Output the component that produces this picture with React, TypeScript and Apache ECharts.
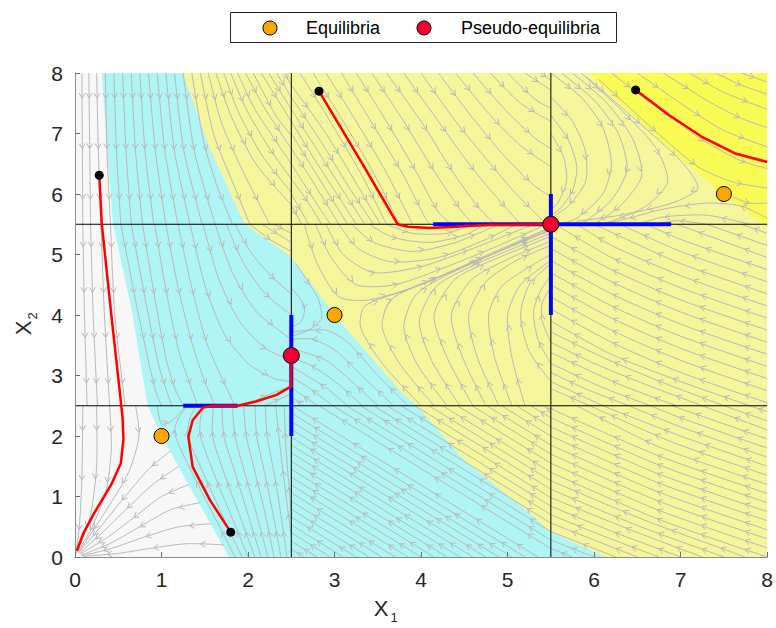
import { useEffect, useRef } from "react";
import * as echarts from "echarts";

// ---------- data ----------
const thresholdsX1 = [2.5, 5.5];
const thresholdsX2 = [2.5, 5.5];

const equilibria = [[1, 2], [3, 4], [7.5, 6]];
const pseudoEquilibria = [[2.5, 3.33], [5.5, 5.5]];
const startPoints = [[0.28, 6.31], [1.8, 0.41], [2.82, 7.7], [6.48, 7.72]];

// sliding segments: horizontal [x0, x1, y], vertical [x, y0, y1]
const slidingH = [[1.25, 1.88, 2.5], [4.14, 6.89, 5.5]];
const slidingV = [[2.5, 2.0, 4.0], [5.5, 4.0, 6.0]];

const traj1 = [[0.28, 6.31], [0.31, 5.5], [0.42, 4.0], [0.52, 2.7], [0.55, 2.3], [0.56, 1.95], [0.53, 1.55], [0.42, 1.2], [0.22, 0.72], [0.1, 0.4], [0.02, 0.1]];
const traj2 = [[1.8, 0.41], [1.56, 0.94], [1.36, 1.49], [1.31, 1.99], [1.36, 2.26], [1.48, 2.47], [1.6, 2.5], [1.88, 2.5], [2.09, 2.57], [2.33, 2.68], [2.5, 2.82], [2.5, 3.33]];
const traj3 = [[2.82, 7.7], [3.3, 6.55], [3.73, 5.5], [3.85, 5.46], [4.1, 5.44], [4.4, 5.46], [4.8, 5.49], [5.5, 5.5]];
const traj4 = [[6.48, 7.72], [6.86, 7.31], [7.24, 6.95], [7.63, 6.67], [8, 6.53]];

// region boundaries
const whiteEdge = [[0.31, 8], [0.37, 6.76], [0.44, 5.5], [0.65, 4.12], [0.84, 2.5], [1, 2], [1.35, 1.1], [1.78, 0]];
const cyanEdge = [[1.245, 8], [1.556, 6.76], [1.96, 5.5], [2.5, 4.96], [2.59, 4.78], [3, 4], [3.78, 2.71], [3.95, 2.5], [4.52, 1.57], [5.25, 0.73], [5.5, 0.41], [6.13, 0]];
const brightEdge = [[5.94, 8], [6.45, 7.3], [6.95, 6.65], [7.5, 6], [8, 5.45]];

// streamlines, read box by box
const streamsTL = [
  [[0.08, 8], [0.09, 5.5]],
  [[0.16, 8], [0.18, 5.5]],
  [[0.25, 8], [0.27, 6.7], [0.3, 5.5]],
  [[0.35, 8], [0.37, 6.7], [0.41, 5.5]],
  [[0.45, 8], [0.48, 6.7], [0.53, 5.5]],
  [[0.55, 8], [0.59, 6.7], [0.65, 5.5]],
  [[0.65, 8], [0.7, 6.7], [0.78, 5.5]],
  [[0.75, 8], [0.81, 6.7], [0.91, 5.5]],
  [[0.85, 8], [0.93, 6.7], [1.05, 5.5]],
  [[0.95, 8], [1.04, 6.7], [1.19, 5.5]],
  [[1.05, 8], [1.15, 6.7], [1.33, 5.5]],
  [[1.15, 8], [1.26, 6.7], [1.47, 5.5]],
  [[1.25, 8], [1.38, 6.7], [1.62, 5.5]],
  [[1.35, 8], [1.49, 6.85], [1.65, 6.1], [1.82, 5.5]],
  [[1.45, 8], [1.6, 7.0], [1.82, 6.2], [2.02, 5.5]],
  [[1.54, 8], [1.7, 7.15], [1.95, 6.35], [2.25, 5.5]],
  [[1.63, 8], [1.8, 7.3], [2.09, 6.5], [2.5, 5.82]],
  [[1.72, 8], [1.89, 7.35], [2.17, 6.62], [2.5, 6.03]],
  [[1.8, 8], [1.98, 7.4], [2.25, 6.75], [2.5, 6.25]],
  [[1.88, 8], [2.08, 7.4], [2.5, 6.5]],
  [[1.97, 8], [2.2, 7.4], [2.5, 6.75]],
  [[2.06, 8], [2.32, 7.3], [2.5, 6.97]],
  [[2.15, 8], [2.5, 7.2]],
  [[2.24, 8], [2.5, 7.4]],
  [[2.33, 8], [2.5, 7.6]],
  [[2.42, 8], [2.5, 7.8]],
];
const streamsML = [
  [[0.09, 5.5], [0.11, 4.0], [0.14, 2.5]],
  [[0.18, 5.5], [0.21, 4.0], [0.26, 2.5]],
  [[0.3, 5.5], [0.34, 4.0], [0.4, 2.5]],
  [[0.41, 5.5], [0.46, 4.0], [0.58, 2.5]],
  [[0.53, 5.5], [0.72, 4.1], [0.92, 2.8], [1.0, 2.5]],
  [[0.65, 5.5], [0.82, 4.2], [0.98, 3.1], [1.12, 2.5]],
  [[0.78, 5.5], [0.92, 4.3], [1.05, 3.3], [1.15, 2.8], [1.25, 2.5]],
  [[0.92, 5.5], [1.06, 4.35], [1.2, 3.4], [1.33, 2.85], [1.42, 2.5]],
  [[1.05, 5.5], [1.2, 4.4], [1.36, 3.5], [1.5, 2.9], [1.62, 2.5]],
  [[1.19, 5.5], [1.35, 4.45], [1.52, 3.55], [1.7, 2.95], [1.85, 2.5]],
  [[1.33, 5.5], [1.5, 4.5], [1.72, 3.7], [2.0, 3.2], [2.3, 2.95], [2.5, 2.9]],
  [[1.48, 5.5], [1.66, 4.6], [1.9, 3.9], [2.2, 3.45], [2.5, 3.25]],
  [[1.62, 5.5], [1.82, 4.7], [2.1, 4.05], [2.5, 3.6]],
  [[1.75, 5.5], [1.95, 4.85], [2.2, 4.35], [2.5, 4.0]],
  [[1.85, 5.5], [2.05, 5.0], [2.3, 4.6], [2.5, 4.35]],
  [[2.02, 5.5], [2.25, 5.25], [2.5, 5.05]],
  [[2.16, 5.5], [2.5, 5.2]],
  [[2.3, 5.5], [2.5, 5.35]],
  [[1.9, 2.5], [2.1, 2.6], [2.3, 2.72], [2.5, 2.82]],
  [[2.2, 2.5], [2.35, 2.6], [2.5, 2.7]],
];
const streamsBL = [
  [[0.09, 2.5], [0.08, 1.3], [0.05, 0.5], [0.01, 0.05]],
  [[0.25, 2.5], [0.25, 1.5], [0.18, 0.7], [0.04, 0.12]],
  [[0.4, 2.5], [0.42, 1.8], [0.36, 1.1], [0.2, 0.5], [0.03, 0.08]],
  [[0.7, 2.5], [0.74, 2.0], [0.62, 1.4], [0.35, 0.75], [0.05, 0.1]],
  [[1.1, 1.75], [0.85, 1.45], [0.55, 0.95], [0.25, 0.42], [0.04, 0.07]],
  [[1.2, 1.5], [0.9, 1.2], [0.6, 0.8], [0.3, 0.38], [0.05, 0.06]],
  [[1.32, 1.2], [1.0, 1.0], [0.68, 0.65], [0.35, 0.3], [0.06, 0.05]],
  [[1.45, 0.9], [1.1, 0.78], [0.75, 0.5], [0.4, 0.22], [0.07, 0.03]],
  [[1.58, 0.55], [1.2, 0.5], [0.8, 0.33], [0.42, 0.14], [0.08, 0.02]],
  [[1.72, 0.2], [1.3, 0.22], [0.9, 0.15], [0.5, 0.06], [0.1, 0.01]],
  [[0.95, 2.5], [1.0, 2.2], [1.12, 2.25], [1.28, 2.5]],
  [[1.85, 0], [1.6, 0.7], [1.35, 1.4], [1.15, 2.05], [1.2, 2.3], [1.3, 2.5]],
  [[1.93, 0], [1.7, 0.7], [1.48, 1.4], [1.3, 2.02], [1.33, 2.3], [1.4, 2.5]],
  [[2.0, 0], [1.8, 0.7], [1.6, 1.4], [1.45, 2.0], [1.45, 2.3], [1.5, 2.5]],
  [[2.08, 0], [1.9, 0.7], [1.72, 1.4], [1.59, 2.0], [1.6, 2.5]],
  [[2.15, 0], [2.0, 0.7], [1.85, 1.4], [1.72, 2.0], [1.7, 2.5]],
  [[2.23, 0], [2.1, 0.7], [1.96, 1.4], [1.85, 2.0], [1.82, 2.5]],
  [[2.3, 0], [2.2, 0.7], [2.08, 1.4], [1.98, 2.0], [1.95, 2.5]],
  [[2.38, 0], [2.29, 0.7], [2.19, 1.4], [2.1, 2.0], [2.08, 2.5]],
  [[2.45, 0], [2.38, 0.7], [2.3, 1.4], [2.22, 2.0], [2.2, 2.5]],
  [[2.5, 0.35], [2.44, 1.0], [2.38, 1.7], [2.32, 2.5]],
  [[2.5, 0.7], [2.46, 1.4], [2.43, 2.0], [2.42, 2.5]],
];
const streamsTM = [
  [[2.5, 5.82], [2.62, 5.5]],
  [[2.5, 6.0], [2.7, 5.5]],
  [[2.5, 6.25], [2.7, 5.85], [2.85, 5.5]],
  [[2.5, 6.5], [2.72, 6.0], [2.95, 5.5]],
  [[2.5, 6.75], [2.75, 6.2], [3.05, 5.5]],
  [[2.5, 7.0], [2.78, 6.35], [3.15, 5.5]],
  [[2.5, 7.2], [2.8, 6.5], [3.05, 5.95], [3.25, 5.5]],
  [[2.5, 7.4], [2.82, 6.68], [3.1, 6.05], [3.35, 5.5]],
  [[2.5, 7.6], [2.85, 6.85], [3.15, 6.15], [3.45, 5.5]],
  [[2.5, 7.8], [2.9, 7.0], [3.22, 6.25], [3.53, 5.5]],
  [[2.6, 8], [2.95, 7.2], [3.3, 6.35], [3.6, 5.5]],
  [[2.75, 8], [3.1, 7.2], [3.45, 6.35], [3.75, 5.5]],
  [[2.9, 8], [3.25, 7.2], [3.6, 6.35], [3.9, 5.5]],
  [[3.08, 8], [3.42, 7.2], [3.78, 6.35], [4.05, 5.6], [4.1, 5.5]],
  [[3.25, 8], [3.6, 7.2], [3.95, 6.35], [4.2, 5.7], [4.35, 5.5]],
  [[3.43, 8], [3.8, 7.2], [4.15, 6.38], [4.45, 5.75], [4.6, 5.5]],
  [[3.6, 8], [4.0, 7.2], [4.35, 6.4], [4.65, 5.8], [4.85, 5.5]],
  [[3.8, 8], [4.2, 7.2], [4.58, 6.45], [4.9, 5.9], [5.15, 5.5]],
  [[4.0, 8], [4.4, 7.2], [4.8, 6.5], [5.1, 6.0], [5.45, 5.5]],
  [[4.2, 8], [4.6, 7.25], [4.98, 6.6], [5.3, 6.15], [5.5, 5.95]],
  [[4.4, 8], [4.8, 7.3], [5.15, 6.8], [5.5, 6.45]],
  [[4.6, 8], [4.98, 7.38], [5.32, 6.92], [5.5, 6.75]],
  [[4.8, 8], [5.15, 7.5], [5.5, 7.2]],
  [[5.0, 8], [5.32, 7.56], [5.5, 7.42]],
  [[5.2, 8], [5.5, 7.72]],
  [[5.38, 8], [5.5, 7.88]],
];
const streamsMM = [
  [[2.65, 5.5], [2.8, 4.85], [3.05, 4.3], [3.4, 4.25], [4.0, 4.5], [4.7, 4.95], [5.5, 5.45]],
  [[2.78, 5.5], [2.96, 4.95], [3.25, 4.5], [3.7, 4.5], [4.3, 4.8], [4.9, 5.15], [5.45, 5.5]],
  [[2.9, 5.5], [3.1, 5.0], [3.45, 4.7], [4.0, 4.8], [4.6, 5.1], [5.3, 5.5]],
  [[3.05, 5.5], [3.27, 5.1], [3.65, 4.88], [4.2, 4.95], [4.75, 5.25], [5.1, 5.5]],
  [[3.2, 5.5], [3.45, 5.2], [3.9, 5.05], [4.4, 5.2], [4.9, 5.5]],
  [[3.4, 5.5], [3.68, 5.28], [4.1, 5.2], [4.5, 5.32], [4.75, 5.5]],
  [[3.6, 5.5], [3.9, 5.35], [4.3, 5.35], [4.6, 5.5]],
  [[4.0, 2.5], [3.55, 3.2], [3.3, 3.8], [3.35, 4.15], [3.8, 4.4], [4.5, 4.8], [5.5, 5.45]],
  [[4.15, 2.5], [3.75, 3.2], [3.55, 3.8], [3.65, 4.25], [4.15, 4.6], [4.9, 5.05], [5.5, 5.42]],
  [[4.3, 2.5], [3.95, 3.2], [3.8, 3.8], [3.95, 4.35], [4.5, 4.8], [5.5, 5.4]],
  [[4.45, 2.5], [4.12, 3.25], [3.98, 3.9], [4.18, 4.48], [4.7, 4.88], [5.5, 5.35]],
  [[4.6, 2.5], [4.3, 3.3], [4.15, 4.0], [4.4, 4.6], [4.9, 4.95], [5.5, 5.3]],
  [[4.75, 2.5], [4.48, 3.3], [4.35, 4.0], [4.58, 4.58], [5.0, 4.92], [5.5, 5.22]],
  [[4.9, 2.5], [4.65, 3.3], [4.55, 4.0], [4.75, 4.55], [5.1, 4.9], [5.5, 5.15]],
  [[5.05, 2.5], [4.85, 3.3], [4.78, 4.0], [4.95, 4.5], [5.5, 5.0]],
  [[5.2, 2.5], [5.05, 3.3], [5.0, 4.0], [5.15, 4.5], [5.5, 4.9]],
  [[5.5, 2.9], [5.25, 3.4], [5.15, 4.0], [5.25, 4.5], [5.5, 4.85]],
  [[5.5, 3.2], [5.35, 3.6], [5.3, 4.05], [5.38, 4.4], [5.5, 4.65]],
  [[5.5, 3.55], [5.4, 3.9], [5.4, 4.2], [5.5, 4.45]],
  [[2.55, 4.85], [2.8, 4.3], [2.85, 3.95], [2.7, 3.75], [2.5, 3.65]],
  [[2.5, 4.45], [2.65, 4.15], [2.62, 3.9], [2.5, 3.8]],
  [[3.85, 2.5], [3.5, 3.0], [3.15, 3.55], [2.9, 3.75], [2.5, 3.72]],
  [[3.68, 2.5], [3.35, 2.95], [3.02, 3.4], [2.75, 3.6], [2.5, 3.6]],
  [[3.5, 2.5], [3.2, 2.9], [2.9, 3.25], [2.5, 3.45]],
  [[3.32, 2.5], [3.05, 2.85], [2.75, 3.15], [2.5, 3.3]],
  [[3.15, 2.5], [2.9, 2.8], [2.5, 3.15]],
  [[2.98, 2.5], [2.72, 2.78], [2.5, 2.98]],
  [[2.8, 2.5], [2.5, 2.8]],
  [[2.65, 2.5], [2.5, 2.65]],
];
const streamsBM = [
  [[2.65, 0], [2.5, 0.13]],
  [[2.8, 0], [2.5, 0.26]],
  [[2.95, 0], [2.5, 0.4]],
  [[3.1, 0], [2.5, 0.53]],
  [[3.25, 0], [2.5, 0.66]],
  [[3.4, 0], [2.5, 0.79]],
  [[3.55, 0], [2.5, 0.92]],
  [[3.7, 0], [2.5, 1.06]],
  [[3.85, 0], [2.5, 1.19]],
  [[4.0, 0], [2.5, 1.32]],
  [[4.15, 0], [2.5, 1.45]],
  [[4.3, 0], [2.5, 1.58]],
  [[4.45, 0], [2.5, 1.72]],
  [[4.6, 0], [2.5, 1.85]],
  [[4.75, 0], [2.5, 1.98]],
  [[4.9, 0], [2.5, 2.11]],
  [[5.05, 0], [2.5, 2.24]],
  [[5.2, 0], [2.5, 2.38]],
  [[5.35, 0], [2.51, 2.5]],
  [[5.5, 0.14], [2.82, 2.5]],
  [[5.5, 0.28], [2.98, 2.5]],
  [[5.5, 0.42], [3.14, 2.5]],
  [[5.5, 0.56], [3.3, 2.5]],
  [[5.5, 0.7], [3.45, 2.5]],
  [[5.5, 0.84], [3.61, 2.5]],
  [[5.5, 0.98], [3.77, 2.5]],
  [[5.5, 1.12], [3.93, 2.5]],
  [[5.5, 1.26], [4.09, 2.5]],
  [[5.5, 1.4], [4.25, 2.5]],
  [[5.5, 1.55], [4.42, 2.5]],
  [[5.5, 1.7], [4.59, 2.5]],
  [[5.5, 1.85], [4.76, 2.5]],
  [[5.5, 2.0], [4.93, 2.5]],
  [[5.5, 2.15], [5.1, 2.5]],
  [[5.5, 2.3], [5.27, 2.5]],
  [[5.5, 2.42], [5.41, 2.5]],
];
const streamsBR = [
  [[8, 0], [6.75, 0.62], [5.5, 1.4]],
  [[8, 0.15], [6.75, 0.77], [5.5, 1.55]],
  [[8, 0.3], [6.75, 0.92], [5.5, 1.7]],
  [[8, 0.45], [6.75, 1.07], [5.5, 1.85]],
  [[8, 0.6], [6.75, 1.22], [5.5, 2.0]],
  [[8, 0.75], [6.75, 1.37], [5.5, 2.15]],
  [[8, 0.9], [6.75, 1.52], [5.5, 2.3]],
  [[8, 1.05], [6.75, 1.67], [5.5, 2.45]],
  [[8, 1.2], [6.75, 1.82], [5.8, 2.5]],
  [[8, 1.35], [6.9, 1.9], [5.95, 2.5]],
  [[8, 1.5], [7.0, 2.0], [6.1, 2.5]],
  [[8, 1.65], [7.0, 2.15], [6.4, 2.5]],
  [[8, 1.8], [7.0, 2.3], [6.65, 2.5]],
  [[8, 1.95], [7.0, 2.45], [6.9, 2.5]],
  [[8, 2.1], [7.25, 2.5]],
  [[8, 2.25], [7.5, 2.5]],
  [[8, 2.4], [7.8, 2.5]],
  [[7.75, 0], [6.6, 0.6], [5.5, 1.26]],
  [[7.5, 0], [6.5, 0.52], [5.5, 1.12]],
  [[7.25, 0], [6.4, 0.46], [5.5, 0.98]],
  [[7.0, 0], [6.25, 0.4], [5.5, 0.84]],
  [[6.75, 0], [6.1, 0.35], [5.5, 0.7]],
  [[6.5, 0], [5.5, 0.56]],
  [[6.25, 0], [5.5, 0.42]],
  [[6.0, 0], [5.5, 0.28]],
  [[5.75, 0], [5.5, 0.14]],
];
const streamsMR = [
  [[7.8, 2.5], [7.0, 2.9], [6.2, 3.35], [5.5, 3.9]],
  [[7.5, 2.5], [6.8, 2.88], [6.1, 3.3], [5.5, 3.72]],
  [[7.25, 2.5], [6.6, 2.85], [6.0, 3.2], [5.5, 3.55]],
  [[6.95, 2.5], [6.3, 2.85], [5.5, 3.38]],
  [[6.65, 2.5], [6.1, 2.8], [5.5, 3.2]],
  [[6.4, 2.5], [5.9, 2.78], [5.5, 3.05]],
  [[6.1, 2.5], [5.5, 2.9]],
  [[5.95, 2.5], [5.5, 2.78]],
  [[8, 2.55], [7.0, 3.05], [6.2, 3.55], [5.5, 4.1]],
  [[8, 2.75], [7.0, 3.25], [6.2, 3.75], [5.5, 4.3]],
  [[8, 2.95], [7.0, 3.45], [6.2, 3.95], [5.5, 4.5]],
  [[8, 3.15], [7.0, 3.65], [6.2, 4.15], [5.5, 4.7]],
  [[8, 3.35], [7.0, 3.85], [6.2, 4.35], [5.5, 4.9]],
  [[8, 3.55], [7.0, 4.05], [6.2, 4.55], [5.5, 5.1]],
  [[8, 3.75], [7.0, 4.25], [6.2, 4.75], [5.5, 5.3]],
  [[8, 3.95], [7.0, 4.45], [6.2, 4.95], [5.55, 5.5]],
  [[8, 4.15], [7.0, 4.65], [6.2, 5.15], [5.8, 5.5]],
  [[8, 4.35], [7.0, 4.85], [6.3, 5.3], [6.0, 5.5]],
  [[8, 4.55], [7.0, 5.05], [6.3, 5.5]],
  [[8, 4.75], [7.0, 5.25], [6.6, 5.5]],
  [[8, 4.95], [7.15, 5.4], [6.95, 5.5]],
  [[8, 5.15], [7.3, 5.5]],
  [[8, 5.35], [7.7, 5.5]],
];
const streamsTR = [
  [[5.5, 7.6], [5.75, 7.2], [5.9, 6.7], [5.9, 6.2], [5.7, 5.8], [5.5, 5.6]],
  [[5.5, 7.3], [5.7, 6.9], [5.8, 6.45], [5.75, 6.05], [5.6, 5.75], [5.5, 5.65]],
  [[5.5, 7.0], [5.65, 6.6], [5.68, 6.2], [5.58, 5.85], [5.5, 5.75]],
  [[5.5, 8], [5.85, 7.6], [6.1, 7.1], [6.2, 6.5], [6.1, 6.0], [5.8, 5.6], [5.6, 5.5]],
  [[5.62, 8], [6.0, 7.55], [6.28, 7.0], [6.38, 6.4], [6.2, 5.9], [5.9, 5.55], [5.8, 5.5]],
  [[5.75, 8], [6.15, 7.5], [6.45, 6.9], [6.55, 6.3], [6.3, 5.8], [6.0, 5.5]],
  [[5.85, 8], [6.32, 7.38], [6.72, 6.75], [6.85, 6.2], [6.6, 5.8], [6.2, 5.55], [6.05, 5.5]],
  [[5.9, 7.95], [6.5, 7.2], [7.0, 6.55], [7.2, 6.1], [6.9, 5.85], [6.3, 5.65], [5.8, 5.55]],
  [[8, 5.6], [7.7, 5.8], [7.3, 5.85], [6.8, 5.75], [6.4, 5.6], [6.1, 5.5]],
  [[7.8, 5.5], [7.3, 5.65], [6.8, 5.62], [6.5, 5.5]],
  [[7.3, 5.5], [6.95, 5.56], [6.7, 5.5]],
  [[6.05, 7.9], [6.7, 7.05], [7.2, 6.45], [7.6, 6.2], [8, 6.1]],
  [[6.2, 8], [6.8, 7.35], [7.3, 6.85], [7.7, 6.55], [8, 6.42]],
  [[6.5, 8], [7.05, 7.45], [7.5, 7.05], [8, 6.78]],
  [[6.8, 8], [7.3, 7.55], [7.7, 7.25], [8, 7.1]],
  [[7.1, 8], [7.5, 7.68], [8, 7.4]],
  [[7.4, 8], [7.7, 7.8], [8, 7.65]],
  [[7.7, 8], [8, 7.85]],
  [[7.6, 5.95], [7.8, 5.85], [8, 5.85]],
];

const STREAMS = [
  ...streamsTL, ...streamsML, ...streamsBL,
  ...streamsTM, ...streamsMM, ...streamsBM,
  ...streamsTR, ...streamsMR, ...streamsBR,
];

// ---------- styles ----------
const COLORS = {
  white: "#f7f7f7",
  cyan: "#aff5f5",
  pale: "#f5f59b",
  bright: "#fafa55",
  stream: "#b8b8b8",
  blue: "#0000ff",
  red: "#ff0000",
  equi: "#ffa500",
  pseudo: "#ee0033",
  text: "#262626",
};
const FONT = "'Liberation Sans', Arial, Helvetica, sans-serif";

const REGIONS = [
  { color: COLORS.pale, points: [[0, 0], [8, 0], [8, 8], [0, 8]] },
  { color: COLORS.cyan, points: [[0, 8], ...cyanEdge, [0, 0]] },
  { color: COLORS.white, points: [[0, 8], ...whiteEdge, [0, 0]] },
  { color: COLORS.bright, points: [...brightEdge, [8, 8]] },
];

function lineSeries(data: number[][], color: string, width: number, z: number) {
  return {
    type: "line",
    data,
    symbol: "none",
    silent: true,
    z,
    lineStyle: { color, width },
    itemStyle: { color },
  };
}

function buildOption() {
  const series: any[] = [];
  series.push({
    type: "custom",
    coordinateSystem: "cartesian2d",
    silent: true,
    clip: true,
    z: 1,
    data: REGIONS.map((r) => r.points[0]),
    renderItem: (params: any, api: any) => {
      const r = REGIONS[params.dataIndex];
      return {
        type: "polygon",
        shape: { points: r.points.map((p) => api.coord(p)) },
        style: { fill: r.color, stroke: null },
      };
    },
  });
  series.push({
    type: "custom",
    coordinateSystem: "cartesian2d",
    silent: true,
    clip: true,
    z: 2,
    data: STREAMS.map((s) => s[0]),
    renderItem: (params: any, api: any) => {
      const pts: number[][] = STREAMS[params.dataIndex].map((p) => api.coord(p));
      const children: any[] = [
        {
          type: "polyline",
          shape: { points: pts, smooth: 0.25 },
          style: { stroke: COLORS.stream, fill: null, lineWidth: 1 },
        },
      ];
      const seg: number[] = [];
      let total = 0;
      for (let i = 1; i < pts.length; i++) {
        const l = Math.hypot(pts[i][0] - pts[i - 1][0], pts[i][1] - pts[i - 1][1]);
        seg.push(l);
        total += l;
      }
      if (total > 8) {
        const n = Math.max(1, Math.round(total / 50));
        for (let k = 0; k < n; k++) {
          let t = ((k + 0.5) * total) / n;
          let i = 0;
          while (i < seg.length - 1 && t > seg[i]) {
            t -= seg[i];
            i++;
          }
          if (seg[i] <= 0) continue;
          const a = pts[i];
          const b = pts[i + 1];
          const dx = (b[0] - a[0]) / seg[i];
          const dy = (b[1] - a[1]) / seg[i];
          const px = a[0] + dx * t;
          const py = a[1] + dy * t;
          const L = 5;
          const W = 3;
          children.push({
            type: "polyline",
            shape: {
              points: [
                [px - dx * L - dy * W, py - dy * L + dx * W],
                [px, py],
                [px - dx * L + dy * W, py - dy * L - dx * W],
              ],
            },
            style: { stroke: COLORS.stream, fill: null, lineWidth: 1 },
          });
        }
      }
      return { type: "group", children };
    },
  });
  thresholdsX1.forEach((x) => series.push(lineSeries([[x, 0], [x, 8]], "#000000", 1, 3)));
  thresholdsX2.forEach((y) => series.push(lineSeries([[0, y], [8, y]], "#000000", 1, 3)));
  slidingH.forEach(([x0, x1, y]) => series.push(lineSeries([[x0, y], [x1, y]], COLORS.blue, 4, 4)));
  slidingV.forEach(([x, y0, y1]) => series.push(lineSeries([[x, y0], [x, y1]], COLORS.blue, 4, 4)));
  [traj1, traj2, traj3, traj4].forEach((t) => series.push(lineSeries(t, COLORS.red, 2.5, 5)));
  series.push({
    type: "scatter",
    data: startPoints,
    symbol: "circle",
    symbolSize: 9,
    silent: true,
    z: 6,
    itemStyle: { color: "#000000", opacity: 1 },
  });
  series.push({
    type: "scatter",
    name: "Equilibria",
    data: equilibria,
    symbol: "circle",
    symbolSize: 15,
    silent: true,
    z: 7,
    itemStyle: { color: COLORS.equi, borderColor: "#000000", borderWidth: 1, opacity: 1 },
  });
  series.push({
    type: "scatter",
    name: "Pseudo-equilibria",
    data: pseudoEquilibria,
    symbol: "circle",
    symbolSize: 16,
    silent: true,
    z: 7,
    itemStyle: { color: COLORS.pseudo, borderColor: "#000000", borderWidth: 1, opacity: 1 },
  });

  const axisCommon = {
    type: "value",
    min: 0,
    max: 8,
    interval: 1,
    z: 10,
    axisLine: { show: true, onZero: false, lineStyle: { color: "#8c8c8c", width: 1 } },
    axisTick: { show: true, inside: true, length: 5, lineStyle: { color: "#6e6e6e" } },
    axisLabel: { fontSize: 21, color: COLORS.text, fontFamily: FONT, margin: 12 },
    splitLine: { show: false },
  };

  return {
    animation: false,
    backgroundColor: "#ffffff",
    grid: { left: 75, top: 73, width: 694, height: 484, containLabel: false },
    xAxis: { ...axisCommon },
    yAxis: { ...axisCommon },
    series,
    graphic: [
      {
        type: "rect",
        shape: { x: 230.5, y: 12.5, width: 386, height: 30 },
        style: { fill: "#ffffff", stroke: "#262626", lineWidth: 1 },
        z: 100,
      },
      {
        type: "circle",
        shape: { cx: 270, cy: 28, r: 7 },
        style: { fill: COLORS.equi, stroke: "#000000", lineWidth: 1 },
        z: 101,
      },
      {
        type: "text",
        x: 306,
        y: 28,
        style: { text: "Equilibria", fontSize: 18, fontFamily: FONT, fill: "#000000", verticalAlign: "middle", align: "left" },
        z: 101,
      },
      {
        type: "circle",
        shape: { cx: 424, cy: 28, r: 7 },
        style: { fill: COLORS.pseudo, stroke: "#000000", lineWidth: 1 },
        z: 101,
      },
      {
        type: "text",
        x: 461,
        y: 28,
        style: { text: "Pseudo-equilibria", fontSize: 18, fontFamily: FONT, fill: "#000000", verticalAlign: "middle", align: "left" },
        z: 101,
      },
      {
        type: "text",
        x: 381,
        y: 608,
        style: { text: "X", fontSize: 22, fontFamily: FONT, fill: COLORS.text, align: "center", verticalAlign: "middle" },
      },
      {
        type: "text",
        x: 394,
        y: 617,
        style: { text: "1", fontSize: 13, fontFamily: FONT, fill: COLORS.text, align: "center", verticalAlign: "middle" },
      },
      {
        type: "text",
        x: 23,
        y: 328,
        rotation: Math.PI / 2,
        style: { text: "X", fontSize: 22, fontFamily: FONT, fill: COLORS.text, align: "center", verticalAlign: "middle" },
      },
      {
        type: "text",
        x: 32,
        y: 316,
        rotation: Math.PI / 2,
        style: { text: "2", fontSize: 13, fontFamily: FONT, fill: COLORS.text, align: "center", verticalAlign: "middle" },
      },
    ],
  };
}

export default function App() {
  const ref = useRef<HTMLDivElement>(null);
  useEffect(() => {
    if (!ref.current) return;
    const chart = echarts.init(ref.current, null, { renderer: "svg" });
    chart.setOption(buildOption() as any);
    return () => chart.dispose();
  }, []);
  return (
    <div
      ref={ref}
      style={{ position: "fixed", left: 0, top: 0, width: 776, height: 628, background: "#ffffff" }}
    />
  );
}
